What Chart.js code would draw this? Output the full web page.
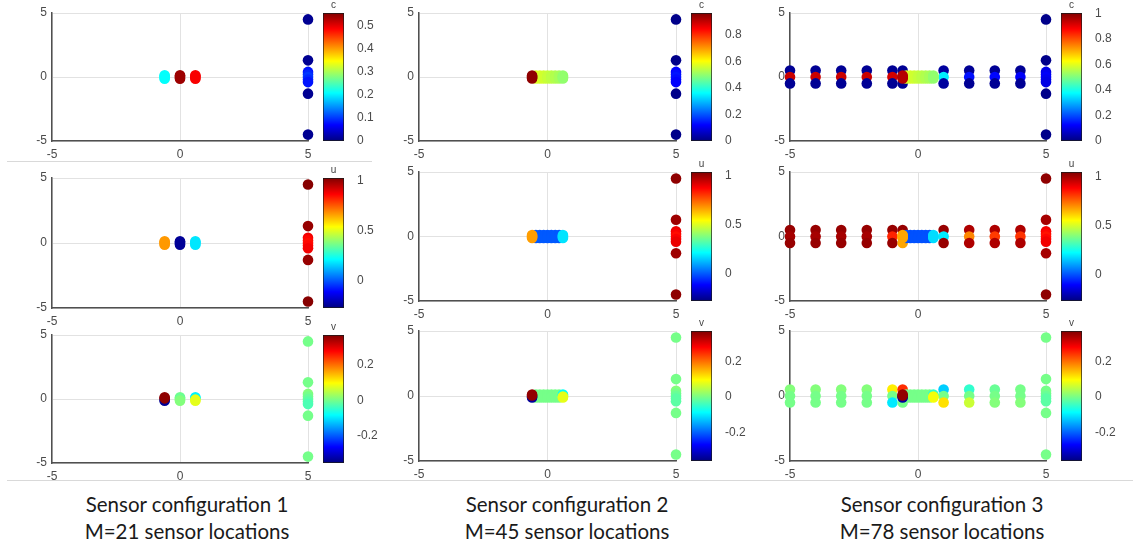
<!DOCTYPE html>
<html>
<head>
<meta charset="utf-8">
<script src="https://cdn.jsdelivr.net/npm/chart.js@4.4.1/dist/chart.umd.min.js"></script>
<style>
body{margin:0;background:#fff;width:1133px;height:550px;position:relative;overflow:hidden;}
canvas{position:absolute;}
.cap{position:absolute;width:340px;text-align:center;font:20.5px Lato, "Open Sans", sans-serif;color:#1a1a1a;}
.lbl{position:absolute;width:20px;text-align:center;font:10px "Liberation Sans", Arial, sans-serif;color:#444;}
.sep{position:absolute;height:1px;background:#d9d9d9;}
</style>
</head>
<body>
<div class="sep" style="left:7px;top:161px;width:365px"></div>
<div class="sep" style="left:7px;top:480px;width:1126px"></div>
<div class="cap" style="left:17px;top:492px">Sensor configuration 1</div>
<div class="cap" style="left:17px;top:519px">M=21 sensor locations</div>
<div class="cap" style="left:397px;top:492px">Sensor configuration 2</div>
<div class="cap" style="left:397px;top:519px">M=45 sensor locations</div>
<div class="cap" style="left:772px;top:492px">Sensor configuration 3</div>
<div class="cap" style="left:772px;top:519px">M=78 sensor locations</div>
<script>
// axis ticks of every scatter panel
const axisTicks = [-5, 0, 5];

// sensor configuration 1 (x=5 column, then clusters at -0.6, 0, 0.6)
const sensorX1 = [5,5,5,5,5,5,5,5,5, -0.6,-0.6,-0.6,-0.6, 0,0,0,0, 0.6,0.6,0.6,0.6];
const sensorY1 = [4.5,1.3,0.4,0.2,0,-0.2,-0.4,-1.3,-4.5, -0.14,-0.05,0.05,0.14, 0.14,0.05,-0.05,-0.14, 0.14,0.05,-0.05,-0.14];
const cVals1 = [0.01,0.01,0.08,0.09,0.1,0.09,0.08,0.01,0.01, 0.21,0.21,0.21,0.21, 0.54,0.54,0.54,0.54, 0.49,0.49,0.49,0.49];
const uVals1 = [1.02,1.0,0.88,0.86,0.85,0.86,0.88,1.0,1.02, 0.67,0.67,0.67,0.67, -0.25,-0.25,-0.25,-0.25, 0.18,0.18,0.18,0.18];
const vVals1 = [0,0,0.01,0,-0.01,-0.02,-0.03,0,0, -0.34,-0.34,0.36,0.36, 0,-0.01,0,0.01, -0.09,-0.09,0.08,0.08];

// sensor configuration 2 (x=5 column, then dense cluster -0.6..0.6)
const sensorX2 = [5,5,5,5,5,5,5,5,5,
  -0.45,-0.45,-0.45,-0.45, -0.3,-0.3,-0.3,-0.3, -0.15,-0.15,-0.15,-0.15, 0,0,0,0,
  0.15,0.15,0.15,0.15, 0.3,0.3,0.3,0.3, 0.45,0.45,0.45,0.45, 0.6,0.6,0.6,0.6, -0.6,-0.6,-0.6,-0.6];
const sensorY2 = [4.5,1.3,0.4,0.2,0,-0.2,-0.4,-1.3,-4.5,
  0.12,0.04,-0.04,-0.12, 0.12,0.04,-0.04,-0.12, 0.12,0.04,-0.04,-0.12, 0.12,0.04,-0.04,-0.12,
  0.12,0.04,-0.04,-0.12, 0.12,0.04,-0.04,-0.12, 0.12,0.04,-0.04,-0.12, 0.12,0.04,-0.04,-0.12, -0.12,-0.04,0.04,0.12];
const cVals2 = [0.01,0.01,0.12,0.13,0.14,0.13,0.12,0.01,0.01,
  0.57,0.57,0.57,0.57, 0.57,0.57,0.57,0.57, 0.56,0.56,0.56,0.56, 0.55,0.55,0.55,0.55,
  0.54,0.54,0.54,0.54, 0.53,0.53,0.53,0.53, 0.52,0.52,0.52,0.52, 0.5,0.5,0.5,0.5, 0.95,0.95,0.95,0.95];
const uVals2 = [1.02,1.0,0.9,0.88,0.86,0.88,0.9,1.0,1.02,
  0,0,0,0, 0,0,0,0, 0,0,0,0, 0,0,0,0,
  0,0,0,0, 0,0,0,0, 0,0,0,0, 0.18,0.18,0.18,0.18, 0.67,0.67,0.67,0.67];
const vVals2 = [0,0,0.01,0,-0.01,-0.02,-0.02,0,0,
  0,0,0,0, 0,0,0,0, 0,0,0,0, 0,0,0,0,
  0,0,0,0, 0,0,0,0, 0,0,0,0, -0.08,-0.08,0.08,0.08, -0.34,-0.34,0.36,0.36];

// sensor configuration 3 (x=5 column, outer columns, two extras, dense cluster)
const sensorX3 = [5,5,5,5,5,5,5,5,5,
  -5,-5,-5, -4,-4,-4, -3,-3,-3, -2,-2,-2, -1,-1,-1, 1,1,1, 2,2,2, 3,3,3, 4,4,4,
  -0.6,-0.6,
  -0.45,-0.45,-0.45,-0.45, -0.3,-0.3,-0.3,-0.3, -0.15,-0.15,-0.15,-0.15, 0,0,0,0,
  0.15,0.15,0.15,0.15, 0.3,0.3,0.3,0.3, 0.45,0.45,0.45,0.45, 0.6,0.6,0.6,0.6, -0.6,-0.6,-0.6,-0.6];
const sensorY3 = [4.5,1.3,0.4,0.2,0,-0.2,-0.4,-1.3,-4.5,
  0.5,0,-0.5, 0.5,0,-0.5, 0.5,0,-0.5, 0.5,0,-0.5, 0.5,0,-0.5, 0.5,0,-0.5, 0.5,0,-0.5, 0.5,0,-0.5, 0.5,0,-0.5,
  0.5,-0.5,
  0.12,0.04,-0.04,-0.12, 0.12,0.04,-0.04,-0.12, 0.12,0.04,-0.04,-0.12, 0.12,0.04,-0.04,-0.12,
  0.12,0.04,-0.04,-0.12, 0.12,0.04,-0.04,-0.12, 0.12,0.04,-0.04,-0.12, 0.12,0.04,-0.04,-0.12, -0.12,-0.04,0.04,0.12];
const cVals3 = [0.01,0.01,0.1,0.11,0.12,0.11,0.1,0.01,0.01,
  0.02,0.93,0.02, 0.02,0.93,0.02, 0.02,0.93,0.02, 0.02,0.93,0.02, 0.02,0.92,0.02,
  0.03,0.36,0.03, 0.02,0.14,0.02, 0.02,0.13,0.02, 0.02,0.12,0.02,
  0.02,0.02,
  0.6,0.6,0.6,0.6, 0.59,0.59,0.59,0.59, 0.58,0.58,0.58,0.58, 0.57,0.57,0.57,0.57,
  0.56,0.56,0.56,0.56, 0.55,0.55,0.55,0.55, 0.54,0.54,0.54,0.54, 0.52,0.52,0.52,0.52, 0.95,0.95,0.95,0.95];
const uVals3 = [1.03,1.0,0.9,0.88,0.86,0.88,0.9,1.0,1.03,
  1.02,1.0,1.02, 1.02,1.0,1.02, 1.02,1.0,1.02, 1.02,1.0,1.02, 1.02,0.84,1.02,
  1.02,0.2,1.02, 0.99,0.71,0.99, 0.99,0.81,0.99, 0.99,0.82,0.99,
  1.02,0.67,
  0,0,0,0, 0,0,0,0, 0,0,0,0, 0,0,0,0,
  0,0,0,0, 0,0,0,0, 0,0,0,0, 0.18,0.18,0.18,0.18, 0.67,0.67,0.67,0.67];
const vVals3 = [0,0,0,0,-0.01,-0.02,-0.02,0,0,
  0.01,0,0, 0.01,0,0, 0.01,0,0, 0.01,0,0, 0.11,0,-0.1,
  -0.12,0,0.12, -0.05,0,0.06, -0.01,0,0.01, 0,0,0.01,
  0.25,0,
  0,0,0,0, 0,0,0,0, 0,0,0,0, 0,0,0,0,
  0,0,0,0, 0,0,0,0, 0,0,0,0, -0.05,-0.05,0.09,0.09, -0.34,-0.34,0.36,0.36];

// colour bar ranges and ticks, per panel
const cRange1 = [0, 0.556],  cTicks1 = [0, 0.1, 0.2, 0.3, 0.4, 0.5];
const cRange2 = [0, 0.965],  cTicks2 = [0, 0.2, 0.4, 0.6, 0.8];
const cRange3 = [0, 1.003],  cTicks3 = [0, 0.2, 0.4, 0.6, 0.8, 1];
const uRange1 = [-0.28, 1.03], uTicks1 = [0, 0.5, 1];
const uRange2 = [-0.28, 1.04], uTicks2 = [0, 0.5, 1];
const uRange3 = [-0.27, 1.05], uTicks3 = [0, 0.5, 1];
const vRange1 = [-0.355, 0.37], vTicks1 = [-0.2, 0, 0.2];
const vRange2 = [-0.36, 0.373], vTicks2 = [-0.2, 0, 0.2];
const vRange3 = [-0.36, 0.373], vTicks3 = [-0.2, 0, 0.2];

// page layout (pixels) for the 3x3 grid
const plotLeft = [52, 419, 790];
const plotRight = [308, 676, 1046];
const barLeft = [323, 691, 1061];
const plotTop = [[13, 178, 335], [13, 172, 331], [13, 172, 331]];
const plotBottom = [[141, 308, 463], [141, 301, 461], [141, 301, 461]];

function jet(t) {
  t = Math.max(0, Math.min(1, t));
  const c = x => Math.round(255 * Math.max(0, Math.min(1, x)));
  return 'rgb(' + c(Math.min(4*t-1.5, -4*t+4.5)) + ',' + c(Math.min(4*t-0.5, -4*t+3.5)) + ',' + c(Math.min(4*t+0.5, -4*t+2.5)) + ')';
}
const jetStops = [0, 0.125, 0.375, 0.625, 0.875, 1];

const panels = [
  [0, 0, 'c', sensorX1, sensorY1, cVals1, cRange1, cTicks1],
  [0, 1, 'u', sensorX1, sensorY1, uVals1, uRange1, uTicks1],
  [0, 2, 'v', sensorX1, sensorY1, vVals1, vRange1, vTicks1],
  [1, 0, 'c', sensorX2, sensorY2, cVals2, cRange2, cTicks2],
  [1, 1, 'u', sensorX2, sensorY2, uVals2, uRange2, uTicks2],
  [1, 2, 'v', sensorX2, sensorY2, vVals2, vRange2, vTicks2],
  [2, 0, 'c', sensorX3, sensorY3, cVals3, cRange3, cTicks3],
  [2, 1, 'u', sensorX3, sensorY3, uVals3, uRange3, uTicks3],
  [2, 2, 'v', sensorX3, sensorY3, vVals3, vRange3, vTicks3],
];

const tickFont = {family: '"Liberation Sans", Arial, sans-serif', size: 12};
const tickColor = '#4a4a4a';

function addCanvas(left, top, w, h) {
  const cv = document.createElement('canvas');
  cv.width = w; cv.height = h;
  cv.style.left = left + 'px'; cv.style.top = top + 'px';
  cv.style.width = w + 'px'; cv.style.height = h + 'px';
  document.body.appendChild(cv);
  return cv;
}

panels.forEach(([col, row, name, xs, ys, vals, range, ticks]) => {
  const L = plotLeft[col], R = plotRight[col];
  const T = plotTop[col][row], B = plotBottom[col][row];
  const [lo, hi] = range;

  // scatter of sensor locations
  const cv = addCanvas(L - 30, T - 8, R - L + 38, B - T + 28);
  new Chart(cv, {
    type: 'scatter',
    data: {
      datasets: [{
        data: xs.map((x, i) => ({x: x, y: ys[i]})),
        pointBackgroundColor: vals.map(v => jet((v - lo) / (hi - lo))),
        pointRadius: 5.3,
        pointHoverRadius: 5.3,
        pointBorderWidth: 0,
        clip: false
      }]
    },
    options: {
      responsive: false,
      animation: false,
      events: [],
      layout: {padding: {top: 8, right: 8, left: 0, bottom: 0}},
      plugins: {legend: {display: false}, tooltip: {enabled: false}},
      scales: {
        x: {
          type: 'linear', min: -5, max: 5,
          afterBuildTicks: s => { s.ticks = axisTicks.map(v => ({value: v})); },
          ticks: {color: tickColor, font: tickFont, padding: 6, maxRotation: 0},
          grid: {color: '#e2e2e2', drawTicks: false},
          border: {color: '#505050', width: 1.5},
          afterFit: s => { s.height = 20; s.paddingLeft = 0; s.paddingRight = 0; }
        },
        y: {
          type: 'linear', min: -5, max: 5,
          afterBuildTicks: s => { s.ticks = axisTicks.map(v => ({value: v})); },
          ticks: {color: tickColor, font: tickFont, padding: 5},
          grid: {color: '#e2e2e2', drawTicks: false},
          border: {color: '#505050', width: 1.5},
          afterFit: s => { s.width = 30; s.paddingTop = 0; s.paddingBottom = 0; }
        }
      }
    }
  });

  // colour bar
  const bl = barLeft[col];
  const cb = addCanvas(bl, T - 8, 61, B - T + 16);
  new Chart(cb, {
    type: 'bar',
    data: {
      labels: [''],
      datasets: [{
        data: [[lo, hi]],
        backgroundColor: ctx => {
          const area = ctx.chart.chartArea;
          if (!area) return '#000080';
          const g = ctx.chart.ctx.createLinearGradient(0, area.bottom, 0, area.top);
          jetStops.forEach(s => g.addColorStop(s, jet(s)));
          return g;
        },
        borderColor: '#1a1a1a',
        borderWidth: 1,
        borderSkipped: false,
        barPercentage: 1,
        categoryPercentage: 1
      }]
    },
    options: {
      responsive: false,
      animation: false,
      events: [],
      layout: {padding: {top: 8, bottom: 8, left: 0, right: 0}},
      plugins: {legend: {display: false}, tooltip: {enabled: false}},
      scales: {
        x: {display: false},
        y: {
          position: 'right', min: lo, max: hi,
          afterBuildTicks: s => { s.ticks = ticks.map(v => ({value: v})); },
          ticks: {color: tickColor, font: tickFont, padding: 5, callback: v => String(+v.toFixed(2))},
          grid: {display: false},
          border: {display: false},
          afterFit: s => { s.width = 40; s.paddingTop = 0; s.paddingBottom = 0; }
        }
      }
    }
  });

  const lbl = document.createElement('div');
  lbl.className = 'lbl';
  lbl.textContent = name;
  lbl.style.left = (bl + 0.5) + 'px';
  lbl.style.top = (T - 14) + 'px';
  document.body.appendChild(lbl);
});
</script>
</body>
</html>
